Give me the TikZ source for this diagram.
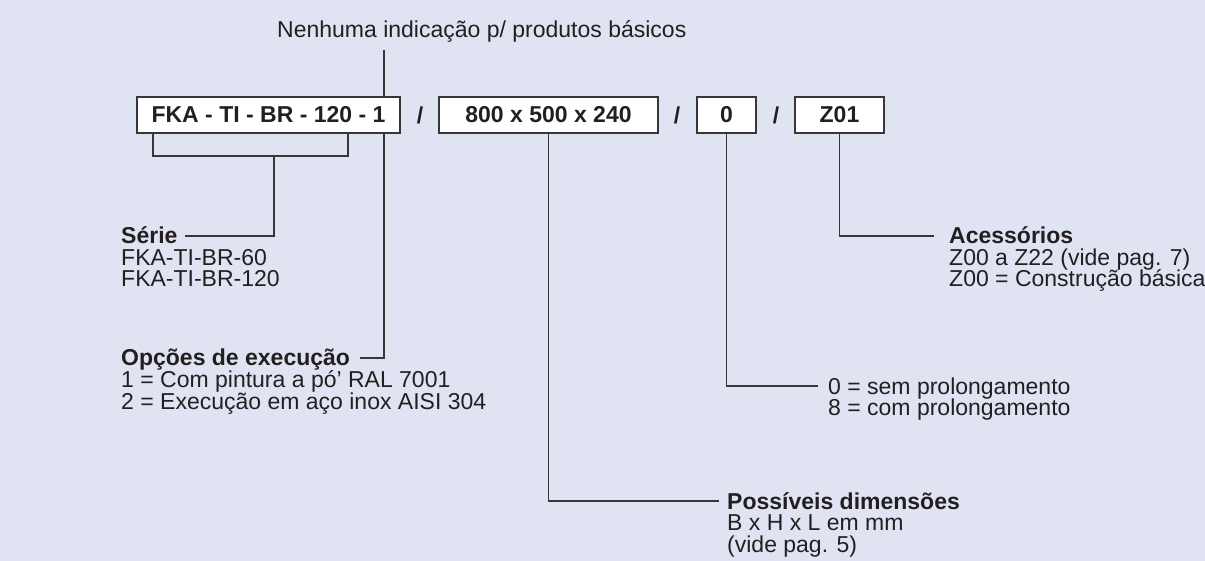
\documentclass[tikz,border=0pt]{standalone}
\usepackage{fontspec}
\setmainfont{Liberation Sans}
\definecolor{bgc}{RGB}{224,228,242}
\definecolor{ink}{RGB}{35,31,32}
\definecolor{wire}{RGB}{55,55,58}
\begin{document}
\begin{tikzpicture}[x=1pt,y=-1pt,
  every node/.style={text=ink, font=\fontsize{23}{21.5}\selectfont},
  codebox/.style={draw=wire, line width=1.3pt, fill=white, minimum height=36pt, inner sep=0pt, font=\fontsize{23}{21.5}\selectfont\bfseries},
  sep/.style={inner sep=0pt, font=\fontsize{23}{21.5}\selectfont\bfseries},
  lbl/.style={anchor=base west, inner sep=0pt},
  ttl/.style={anchor=base west, inner sep=0pt, text height=16pt, text depth=0pt, font=\fontsize{23}{21.5}\selectfont\bfseries},
  wirel/.style={draw=wire, line width=1.1pt}]
\fill[bgc] (0,0) rectangle (1205,561);
\useasboundingbox (0,0) rectangle (1205,561);

% top note
\node[lbl] (nenh) at (277,38) {Nenhuma indicação p/ produtos básicos};

% text blocks
\node[ttl] (serie) at (121,244) {Série};
\node[lbl] (serie2) at (121,265.5) {FKA-TI-BR-60};
\node[lbl] (serie3) at (121,287) {FKA-TI-BR-120};

\node[ttl] (opc) at (121,366) {Opções de execução};
\node[lbl] (opc2) at (121,387.5) {1 = Com pintura a pó’ RAL 7001};
\node[lbl] (opc3) at (121,409) {2 = Execução em aço inox AISI 304};

\node[ttl, font=\fontsize{23}{21.5}\selectfont] (prol) at (828,394) {0 = sem prolongamento};
\node[lbl] (prol2) at (828,415.5) {8 = com prolongamento};

\node[ttl] (poss) at (727,509) {Possíveis dimensões};
\node[lbl] (poss2) at (727,530.5) {B x H x L em mm};
\node[lbl] (poss3) at (727,552) {(vide pag. 5)};

\node[ttl] (aces) at (949,244) {Acessórios};
\node[lbl] (aces2) at (949,265.5) {Z00 a Z22 (vide pag. 7)};
\node[lbl] (aces3) at (949,287) {Z00 = Construção básica};

% connector helper coordinates
\coordinate (ntop) at (384,50);
\coordinate (bl) at (153,133);
\coordinate (br) at (348,133);
\coordinate (stem) at (274,156);

% connectors (drawn before boxes so boxes cover them)
\draw[wirel] (ntop) -- (ntop |- opc) -- ([xshift=10pt]opc.east);
\draw[wirel] (bl) -- (bl |- stem) -- (br |- stem) -- (br);
\draw[wirel] (stem) -- (stem |- serie) -- ([xshift=7pt]serie.east);

% code boxes
\node[codebox, minimum width=263pt] (b1) at (268.5,115) {FKA - TI - BR - 120 - 1};
\node[sep] (s1) at (420,115) {/};
\node[codebox, minimum width=219pt] (b2) at (548.5,115) {800 x 500 x 240};
\node[sep] (s2) at (677,115) {/};
\node[codebox, minimum width=59pt] (b3) at (726.5,115) {0};
\node[sep] (s3) at (776,115) {/};
\node[codebox, minimum width=89pt] (b4) at (839.5,115) {Z01};

\draw[wirel] (b2.south) -- (b2.south |- poss) -- ([xshift=-8pt]poss.west);
\draw[wirel] (b3.south) -- (b3.south |- prol) -- ([xshift=-10pt]prol.west);
\draw[wirel] (b4.south) -- (b4.south |- aces) -- ([xshift=-15pt]aces.west);
\end{tikzpicture}
\end{document}
